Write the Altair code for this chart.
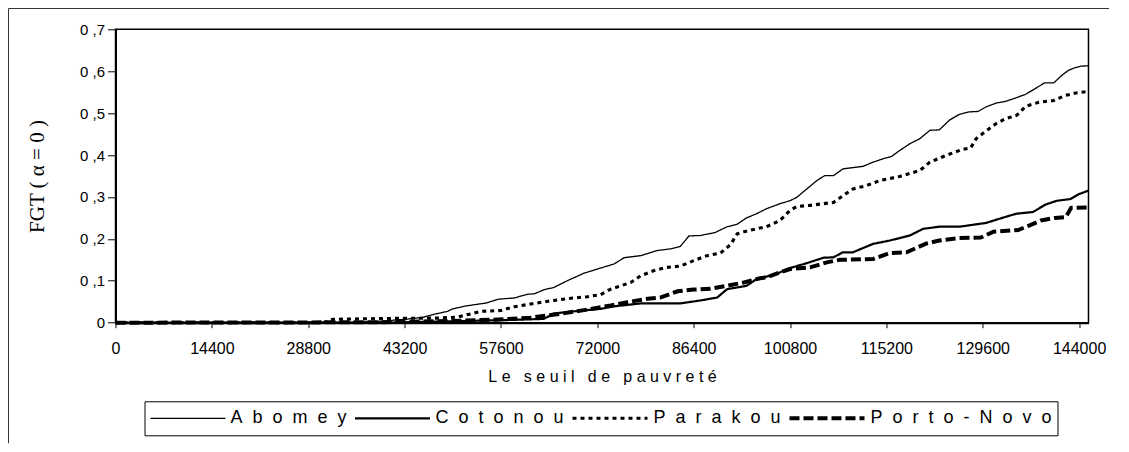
import altair as alt
import pandas as pd

# --- data ---
villes = ["Abomey", "Cotonou", "Parakou", "Porto-Novo"]

abomey_x = [0, 36000, 40000, 43200, 46000, 47900, 49600, 50400, 52400, 55400, 57200, 59600, 61600, 62600,
            64100, 65500, 67500, 70000, 72000, 74500, 76000, 78500, 80900, 82900, 84400, 85700, 87400, 89600,
            91400, 92900, 94300, 95800, 97300, 99300, 100800, 101800, 103300, 104800, 106000, 107300, 108700,
            111700, 113200, 114700, 116000, 117200, 118700, 120200, 121700, 123100, 124600, 126100, 127600,
            128900, 130100, 131600, 133000, 134500, 136000, 137400, 138800, 140200, 141400, 142400, 143300,
            144200, 145400]
abomey_y = [0, 0.001, 0.004, 0.008, 0.013, 0.021, 0.027, 0.033, 0.040, 0.047, 0.056, 0.059, 0.068, 0.069,
            0.079, 0.084, 0.100, 0.118, 0.128, 0.140, 0.155, 0.160, 0.172, 0.176, 0.182, 0.207, 0.208, 0.215,
            0.229, 0.235, 0.250, 0.260, 0.272, 0.284, 0.291, 0.299, 0.319, 0.339, 0.351, 0.351, 0.367,
            0.373, 0.383, 0.391, 0.397, 0.411, 0.427, 0.439, 0.459, 0.460, 0.483, 0.497, 0.503,
            0.504, 0.515, 0.524, 0.528, 0.536, 0.545, 0.558, 0.572, 0.572, 0.590, 0.602, 0.608,
            0.612, 0.613]

cotonou_x = [0, 40000, 46000, 52000, 58000, 64000, 65500, 68500, 72500, 74500, 78500, 84400, 87400, 89900,
             91400, 94300, 95800, 98800, 100300, 103300, 105800, 107300, 108700, 110200, 113200, 115700,
             118700, 120700, 123100, 126100, 130100, 132300, 134600, 137100, 139000, 140700, 142700, 144000,
             145400]
cotonou_y = [0, 0.0, 0.002, 0.004, 0.006, 0.009, 0.022, 0.027, 0.033, 0.039, 0.046, 0.046, 0.053, 0.060,
             0.080, 0.088, 0.104, 0.116, 0.128, 0.142, 0.155, 0.156, 0.168, 0.168, 0.188, 0.196,
             0.208, 0.224, 0.229, 0.229, 0.238, 0.249, 0.260, 0.264, 0.282, 0.291, 0.295, 0.307,
             0.315]

parakou_x = [0, 31000, 32500, 40000, 48000, 51000, 54600, 57600, 59600, 62600, 64600, 66500, 68500, 70500,
             72500, 74000, 75500, 77000, 78500, 80400, 82400, 84400, 86400, 88400, 90400, 91900, 92900,
             94600, 97300, 99300, 100800, 101800, 103800, 107300, 108700, 110200, 112200, 114200, 117200,
             120200, 121700, 124100, 126500, 127800, 128600, 130300, 131600, 132900, 134700, 136000,
             138000, 140200, 141900, 143500, 145400]
parakou_y = [0, 0, 0.008, 0.010, 0.011, 0.013, 0.027, 0.029, 0.038, 0.046, 0.051, 0.055, 0.059, 0.062,
             0.067, 0.080, 0.088, 0.096, 0.112, 0.124, 0.132, 0.135, 0.148, 0.160, 0.166, 0.186, 0.212,
             0.220, 0.229, 0.244, 0.268, 0.277, 0.280, 0.287, 0.303, 0.319, 0.327, 0.339, 0.349,
             0.363, 0.383, 0.399, 0.413, 0.417, 0.439, 0.460, 0.475, 0.486, 0.495, 0.516,
             0.526, 0.530, 0.542, 0.548, 0.552]

portonovo_x = [0, 40000, 50000, 58000, 62000, 66000, 70000, 74000, 76500, 79500, 81400, 84000, 86400,
               88900, 91400, 93900, 96300, 97300, 99300, 100800, 103800, 106300, 108200, 113200, 115700,
               118200, 121200, 123100, 126100, 129300, 131200, 134900, 136700, 138300, 140400, 142000,
               142800, 145400]
portonovo_y = [0, 0.001, 0.004, 0.008, 0.012, 0.020, 0.030, 0.041, 0.049, 0.057, 0.060, 0.075, 0.079,
               0.081, 0.088, 0.096, 0.106, 0.108, 0.120, 0.128, 0.132, 0.144, 0.150, 0.152, 0.166,
               0.168, 0.189, 0.196, 0.202, 0.203, 0.217, 0.221, 0.233, 0.244, 0.250, 0.252,
               0.274, 0.275]

x_ticks = [0, 14400, 28800, 43200, 57600, 72000, 86400, 100800, 115200, 129600, 144000]
y_ticks = [0, 0.1, 0.2, 0.3, 0.4, 0.5, 0.6, 0.7]

series = {
    "Abomey": (abomey_x, abomey_y),
    "Cotonou": (cotonou_x, cotonou_y),
    "Parakou": (parakou_x, parakou_y),
    "Porto-Novo": (portonovo_x, portonovo_y),
}
rows = []
for v, (xs, ys) in series.items():
    assert len(xs) == len(ys), v
    for i, (a, b) in enumerate(zip(xs, ys)):
        rows.append({"ville": v, "seuil": a, "fgt": b, "i": i})
df = pd.DataFrame(rows)

SANS = "Liberation Sans"
SERIF = "Liberation Serif"
NB = "\u00a0"

x_title = (NB * 3).join(NB.join(w) for w in "Le seuil de pauvreté".split(" "))
legend_label_expr = "join(split(datum.label, ''), '\u00a0\u00a0')"

lines = alt.Chart(df).mark_line(color="black", strokeCap="butt", strokeJoin="miter").encode(
    x=alt.X("seuil:Q",
            scale=alt.Scale(domain=[0, 145400], nice=False, zero=False),
            axis=alt.Axis(values=x_ticks, labelExpr="format(datum.value, 'd')", title=x_title,
                          grid=False, labelFont=SANS, labelFontSize=16, labelColor="black",
                          titleFont=SANS, titleFontSize=16, titleFontWeight="normal", titleColor="black",
                          titlePadding=12, labelPadding=13, tickSize=5, tickColor="black", tickWidth=1,
                          domainColor="black", domainWidth=2, labelFlush=False, labelOverlap=False)),
    y=alt.Y("fgt:Q",
            scale=alt.Scale(domain=[0, 0.7], nice=False, zero=True),
            axis=alt.Axis(values=y_ticks,
                          labelExpr="datum.value == 0 ? '0' : replace(format(datum.value, '.1f'), '.', ' ,')",
                          title="FGT ( α = 0 )", grid=False, labelFont=SANS, labelFontSize=15,
                          labelColor="black", titleFont=SERIF, titleFontSize=21, titleFontWeight="normal",
                          titleColor="black", titlePadding=32, labelPadding=3, tickSize=8, tickColor="black",
                          tickWidth=1, domainColor="black", domainWidth=2, labelFlush=False)),
    strokeDash=alt.StrokeDash("ville:N",
                              scale=alt.Scale(domain=villes, range=[[1, 0], [1, 0], [4, 4], [10, 4]]),
                              legend=alt.Legend(title=None, labelExpr=legend_label_expr)),
    strokeWidth=alt.StrokeWidth("ville:N",
                                scale=alt.Scale(domain=villes, range=[1.3, 4, 1.2, 4]),
                                legend=alt.Legend(title=None, labelExpr=legend_label_expr)),
    order="i:Q",
)

# outer frame of the figure (decoration, at the canvas edges)
frame_df = pd.DataFrame({"k": [0]})
frame_left = alt.Chart(frame_df).mark_rule(color="#333333", strokeWidth=1).encode(
    x=alt.value(-107), y=alt.value(-20.8), y2=alt.value(414))
frame_top = alt.Chart(frame_df).mark_rule(color="#333333", strokeWidth=1).encode(
    x=alt.value(-107), x2=alt.value(1000), y=alt.value(-20.8))

chart = alt.layer(lines, frame_left, frame_top).properties(
    width=973, height=293.4,
    autosize=alt.AutoSizeParams(type="none"),
    padding={"left": 107.5, "top": 21.3, "right": 20, "bottom": 121},
).configure_view(
    stroke="black", strokeWidth=1.5
).configure_legend(
    orient="none", legendX=29, legendY=372, direction="horizontal",
    symbolType="stroke", symbolSize=5625, symbolStrokeColor="black", clipHeight=24,
    labelFont=SANS, labelFontSize=18, labelColor="black", labelLimit=400,
    strokeColor="black", fillColor="white", padding=5, columnPadding=6, labelOffset=4,
)

chart.save("out.html", embed_options={"renderer": "svg", "actions": False})
